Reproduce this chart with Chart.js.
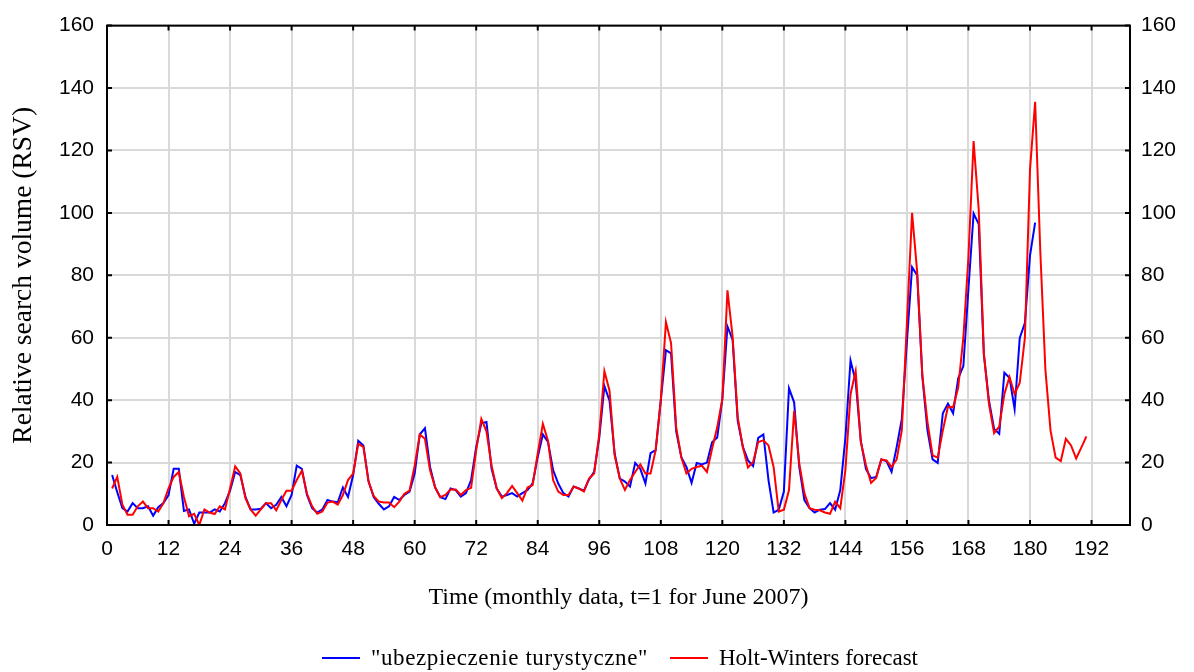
<!DOCTYPE html>
<html lang="en">
<head>
<meta charset="utf-8">
<title>Relative search volume and Holt-Winters forecast</title>
<script src="https://cdn.jsdelivr.net/npm/chart.js@4.4.1/dist/chart.umd.min.js"></script>
<style>
  html, body { margin: 0; padding: 0; background: #fff; }
  #wrap { position: relative; width: 1194px; height: 672px; }
  #legend {
    position: absolute; left: 322px; top: 644px; height: 28px;
    display: flex; align-items: center;
    font-family: 'Liberation Serif', 'Times New Roman', serif; font-size: 23px; color: #000;
    white-space: nowrap;
  }
  .legend-item { display: flex; align-items: center; }
  .legend-item:first-child { width: 348px; }
  .legend-item:first-child span:last-child { letter-spacing: 0.6px; }
  .legend-line { width: 38px; height: 2px; margin-right: 11px; }
</style>
</head>
<body>
<div id="wrap">
  <canvas id="chart" width="1194" height="672"></canvas>
  <div id="legend"></div>
</div>
<script>
// --- DATA (t = 1 for June 2007) ---
const timeTicks = [0, 12, 24, 36, 48, 60, 72, 84, 96, 108, 120, 132, 144, 156, 168, 180, 192];
const rsvTicks = [0, 20, 40, 60, 80, 100, 120, 140, 160];

// "ubezpieczenie turystyczne", t = 1..181
const searchVolume = [
  16, 10.5, 5.4, 4.3, 7, 5.4, 5.4, 6, 3, 5.7,
  7, 9.6, 18, 18, 4.5, 5, 0.4, 4, 4, 4,
  5, 4.3, 7, 11, 17, 16, 9, 5, 5, 5.2,
  7, 5.4, 6.5, 9, 6, 9.6, 19, 18, 9.6, 5.4,
  4, 5, 8, 7.5, 7.3, 12, 9, 16, 27, 25.5,
  14, 9, 6.8, 5, 6, 9, 8, 9.6, 10.7, 16.5,
  29, 31, 18.6, 12, 8.9, 8.3, 11.7, 11.2, 9.1, 10.2,
  14.4, 25, 32.6, 33, 18, 11.7, 9.1, 9.6, 10.2, 9.1,
  10.2, 11.2, 13.3, 21.8, 29, 26.6, 17.6, 13.3, 10.2, 9.1,
  12.3, 11.7, 11, 14.6, 17, 28, 44.5, 39.8, 22.9, 14.9,
  13.9, 12.3, 19.9, 18, 13.3, 23, 24, 40, 56, 55,
  30, 21.7, 18.6, 13.5, 19.9, 19.4, 20, 26.5, 28, 40.3,
  63.6, 59.4, 33.4, 25, 20.7, 18.9, 27.9, 29, 14.4, 4,
  4.9, 10.7, 43.8, 39.3, 18.6, 8, 5.4, 4, 4.9, 5.1,
  7, 4.9, 11.2, 28, 52.7, 46, 27, 18, 15, 15.4,
  21, 20.5, 17, 25, 34, 58.8, 82.6, 80, 47.7, 30.3,
  21, 19.9, 35.8, 38.9, 35.8, 47, 50.9, 75.8, 99.8, 96.4,
  54.6, 39.8, 30.8, 29.2, 48.8, 47.2, 37.1, 59.9, 64.7, 86.3,
  96.9,
];

// Holt-Winters forecast, t = 1..191
const hwForecast = [
  11.7, 15.4, 6.5, 3.3, 3.3, 6, 7.5, 5.4, 5.4, 4.3,
  7, 11.7, 15.4, 17, 9, 2.8, 3.6, 0, 5, 4,
  3.5, 6, 5, 11.7, 18.8, 16.5, 8.6, 5, 3, 5,
  7, 7, 4.7, 8, 11, 11, 14.4, 17.4, 10, 6,
  3.6, 4.3, 7.2, 7.5, 6.5, 9.6, 14.4, 16.5, 26, 25,
  14, 9.3, 7.5, 7.2, 7.2, 5.7, 7.5, 10, 11, 19,
  29, 27.6, 17.5, 12, 8.9, 9.6, 11.4, 11.4, 9.6, 11.2,
  11.9, 24, 34, 30, 19, 11.7, 8.6, 10.2, 12.5, 10.2,
  7.8, 12, 12.8, 22.9, 32.4, 27, 14.4, 10.7, 9.6, 9.6,
  12.3, 11.7, 10.7, 14.9, 16.5, 29, 49.3, 43, 22.3, 14.9,
  11.2, 14.4, 17, 19.4, 16.5, 16.5, 24, 40, 65, 58.3,
  31.3, 21.7, 16.5, 18, 18.6, 19, 17, 24.4, 31.3, 40.3,
  75.2, 60.4, 34.5, 25, 18.4, 20.2, 26.6, 27.1, 25.5, 18.6,
  4.3, 4.9, 11.2, 36.6, 19.7, 10.2, 5.4, 4.9, 4.7, 4,
  3.6, 7.5, 5.4, 17.6, 41.9, 49.3, 26.6, 19.2, 13.5, 15.1,
  21, 20.7, 18.6, 21, 30.3, 65, 100, 81, 48, 33,
  22.3, 21.6, 30.3, 37.9, 37.7, 44, 60, 86, 123, 101,
  55, 38.7, 29.4, 31.5, 42, 47.4, 41.9, 45.6, 59.9, 113.9,
  135.6, 88, 49.8, 30.3, 21.6, 20.5, 27.6, 25.5, 21.3, 24.8,
  28.4,
];

// --- STYLE ---
const serif = "'Liberation Serif', 'Times New Roman', serif";
const sans = "'Liberation Sans', Arial, sans-serif";
const tickFont = { family: sans, size: 21 };
const gridColor = '#d9d9d9';

const toPoints = (values) => values.map((y, i) => ({ x: i + 1, y }));

// black frame + short inward tick marks (Statistica style)
const framePlugin = {
  id: 'frame',
  afterDatasetsDraw(chart) {
    const { ctx, chartArea: a, scales } = chart;
    ctx.save();
    ctx.strokeStyle = '#000';
    ctx.lineWidth = 2;
    ctx.beginPath();
    scales.x.ticks.forEach((t) => {
      const px = scales.x.getPixelForValue(t.value);
      ctx.moveTo(px, a.bottom);
      ctx.lineTo(px, a.bottom - 5);
      ctx.moveTo(px, a.top);
      ctx.lineTo(px, a.top + 5);
    });
    scales.y.ticks.forEach((t) => {
      const py = scales.y.getPixelForValue(t.value);
      ctx.moveTo(a.left, py);
      ctx.lineTo(a.left + 5, py);
      ctx.moveTo(a.right, py);
      ctx.lineTo(a.right - 5, py);
    });
    ctx.stroke();
    ctx.strokeRect(a.left, a.top, a.right - a.left, a.bottom - a.top);
    ctx.restore();
  },
};

const ctx = document.getElementById('chart').getContext('2d');
const chart = new Chart(ctx, {
  type: 'line',
  data: {
    datasets: [
      {
        label: '"ubezpieczenie turystyczne"',
        data: toPoints(searchVolume),
        borderColor: '#0000ff',
        borderWidth: 2,
        pointRadius: 0,
        tension: 0,
        order: 2,
      },
      {
        label: 'Holt-Winters forecast',
        data: toPoints(hwForecast),
        borderColor: '#ff0000',
        borderWidth: 2,
        pointRadius: 0,
        tension: 0,
        order: 1,
      },
    ],
  },
  options: {
    responsive: false,
    animation: false,
    layout: { padding: { top: 21, left: 0, right: 0, bottom: 0 } },
    plugins: {
      legend: { display: false },
      tooltip: { enabled: false },
    },
    scales: {
      x: {
        type: 'linear',
        min: 0,
        max: 199.5,
        afterBuildTicks: (s) => { s.ticks = timeTicks.map((v) => ({ value: v })); },
        afterFit: (s) => { s.height = 147; },
        grid: { color: gridColor, lineWidth: 2, drawTicks: false },
        border: { display: false },
        ticks: { padding: 12, color: '#000', font: tickFont, maxRotation: 0, autoSkip: false },
        title: {
          display: true,
          text: 'Time (monthly data, t=1 for June 2007)',
          color: '#000',
          font: { family: serif, size: 24 },
          padding: { top: 0, bottom: 60 },
        },
      },
      y: {
        position: 'left',
        min: 0,
        max: 160,
        afterBuildTicks: (s) => { s.ticks = rsvTicks.map((v) => ({ value: v })); },
        afterFit: (s) => { s.width = 107; },
        grid: { color: gridColor, lineWidth: 2, drawTicks: false },
        border: { display: false },
        ticks: { padding: 13, color: '#000', font: tickFont },
        title: {
          display: true,
          text: 'Relative search volume (RSV)',
          color: '#000',
          font: { family: serif, size: 27.5 },
          padding: { top: 7, bottom: 0 },
        },
      },
      y2: {
        position: 'right',
        min: 0,
        max: 160,
        afterBuildTicks: (s) => { s.ticks = rsvTicks.map((v) => ({ value: v })); },
        afterFit: (s) => { s.width = 64; },
        grid: { display: false, drawTicks: false },
        border: { display: false },
        ticks: { padding: 11, color: '#000', font: tickFont },
      },
    },
  },
  plugins: [framePlugin],
});

// --- LEGEND (HTML, built from the datasets) ---
const legendEl = document.getElementById('legend');
chart.data.datasets.forEach((ds) => {
  const item = document.createElement('div');
  item.className = 'legend-item';
  const line = document.createElement('span');
  line.className = 'legend-line';
  line.style.background = ds.borderColor;
  const text = document.createElement('span');
  text.textContent = ds.label;
  item.appendChild(line);
  item.appendChild(text);
  legendEl.appendChild(item);
});
</script>
</body>
</html>
